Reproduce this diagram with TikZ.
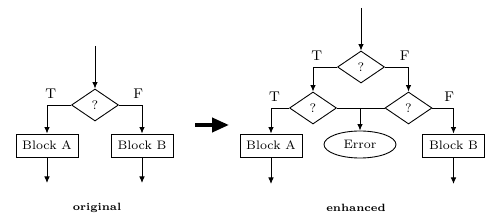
\documentclass[tikz,border=0pt]{standalone}
\usepackage{tikz}
\usetikzlibrary{arrows.meta,positioning,shapes.geometric}

\begin{document}
\begin{tikzpicture}[
  x=0.2mm, y=-0.2mm,
  font=\scriptsize,
  blk/.style={draw,minimum width=12.4mm,minimum height=4.6mm,inner sep=1pt,align=center},
  dec/.style={draw,diamond,aspect=1.5,minimum width=9.4mm,minimum height=6.4mm,inner sep=0pt,font=\scriptsize},
  errbox/.style={draw,ellipse,minimum width=14.4mm,minimum height=5.4mm,inner sep=0pt},
  tf/.style={above,font=\footnotesize},
  capt/.style={font=\fontsize{6}{7}\selectfont\bfseries},
  >={Latex[length=1.3mm,width=1.1mm]}, line width=0.5pt]
  \useasboundingbox (0,0) rectangle (500,220);
  % original
  \node[dec] (q) at (95,105) {?};
  \node[blk] (ba) at (47,145.5) {Block A};
  \node[blk] (bb) at (142,145.5) {Block B};
  \coordinate (qin) at (95,46);
  \coordinate (baout) at (47,183);
  \coordinate (bbout) at (142,183);
  \draw[->] (qin) -- (q.north);
  \draw[->] (q.west) -| node[pos=0.42,tf] {T} (ba.north);
  \draw[->] (q.east) -| node[pos=0.42,tf] {F} (bb.north);
  \draw[->] (ba.south) -- (baout);
  \draw[->] (bb.south) -- (bbout);
  \node[capt] (orig) at (97,208) {original};
  % transformation arrow
  \coordinate (ts) at (195,125);
  \coordinate (te) at (229,125);
  \draw[line width=2.2pt,-{Triangle[length=3.4mm,width=2.8mm]}] (ts) -- (te);
  % enhanced
  \node[dec] (qt) at (361,67) {?};
  \node[dec] (ql) at (313,108) {?};
  \node[dec] (qr) at (408.5,108) {?};
  \node[blk] (ea) at (271,145.5) {Block A};
  \node[errbox] (err) at (360,144.5) {Error};
  \node[blk] (eb) at (453.5,145.5) {Block B};
  \coordinate (qtin) at (361,8);
  \coordinate (eaout) at (271,184);
  \coordinate (ebout) at (453.5,184);
  \draw[->] (qtin) -- (qt.north);
  \draw[->] (qt.west) -| node[pos=0.42,tf] {T} (ql.north);
  \draw[->] (qt.east) -| node[pos=0.42,tf] {F} (qr.north);
  \draw[->] (ql.west) -| node[pos=0.4,tf] {T} (ea.north);
  \draw[->] (qr.east) -| node[pos=0.4,tf] {F} (eb.north);
  \draw (ql.east) -- (qr.west);
  \draw[->] (ql.east -| err.north) -- (err.north);
  \draw[->] (ea.south) -- (eaout);
  \draw[->] (eb.south) -- (ebout);
  \node[capt] (enh) at (356,208) {enhanced};
\end{tikzpicture}
\end{document}
